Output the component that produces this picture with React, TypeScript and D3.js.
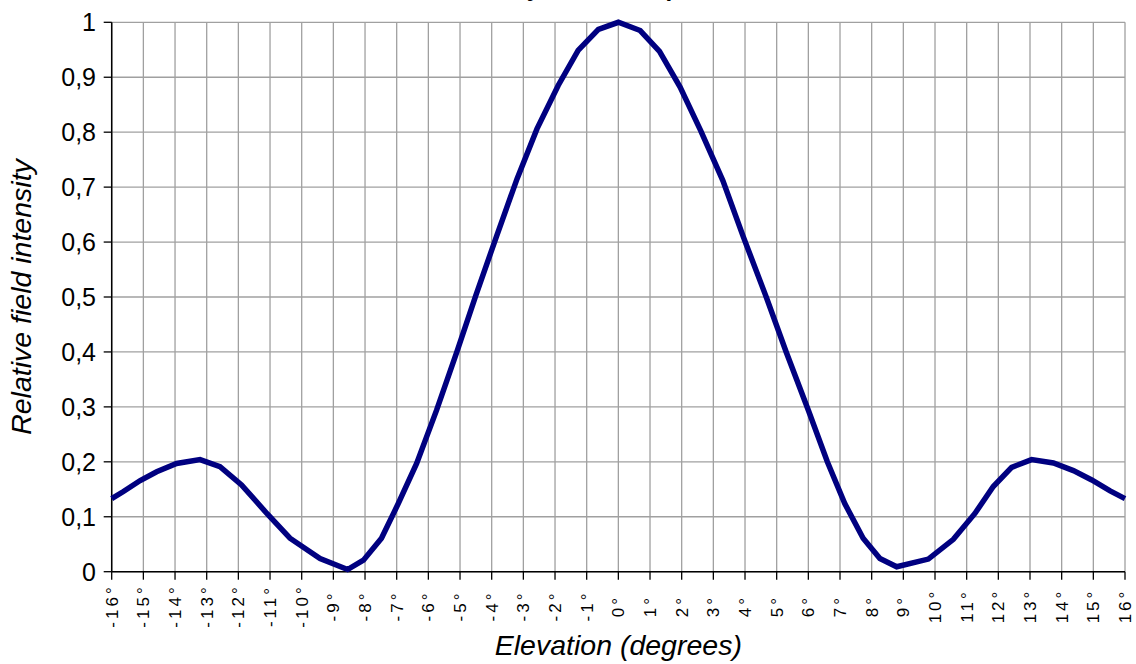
import * as d3 from "d3";

const WIDTH = 1136;
const HEIGHT = 664;
const MARGINS = { LEFT: 111.7, RIGHT: 11, TOP: 22.3, BOTTOM: 92.3 };

const elevation = [
  -16, -15.63, -15.1, -14.58, -13.95, -13.21, -12.58, -11.9, -11.1, -10.37,
  -9.42, -8.55, -8.05, -7.48, -6.95, -6.37, -5.74, -5.1, -4.5, -3.85, -3.2,
  -2.57, -1.9, -1.27, -0.63, 0, 0.69, 1.3, 1.95, 2.6, 3.3, 3.95, 4.69, 5.3,
  6.0, 6.6, 7.15, 7.73, 8.26, 8.79, 9.79, 10.58, 11.26, 11.84, 12.42, 13.05,
  13.74, 14.37, 14.95, 15.53, 16,
];
const intensity = [
  0.133, 0.146, 0.166, 0.182, 0.197, 0.204, 0.191, 0.158, 0.106, 0.061,
  0.024, 0.004, 0.021, 0.061, 0.124, 0.197, 0.294, 0.4, 0.503, 0.61, 0.715,
  0.806, 0.885, 0.949, 0.987, 1.0, 0.985, 0.947, 0.882, 0.803, 0.712, 0.609,
  0.497, 0.4, 0.294, 0.2, 0.124, 0.061, 0.024, 0.009, 0.023, 0.059, 0.106,
  0.155, 0.19, 0.204, 0.198, 0.184, 0.167, 0.147, 0.133,
];

const xTicks = d3.range(-16, 17, 1);
const yTicks = d3.range(0, 11, 1).map((d) => d / 10);

const TITLE = "Vertical array: elevation pattern";
const X_TITLE = "Elevation (degrees)";
const Y_TITLE = "Relative field intensity";

const FONT = "'Liberation Sans', Arial, sans-serif";

export default function App() {
  const x = d3
    .scaleLinear()
    .domain([-16, 16])
    .range([MARGINS.LEFT, WIDTH - MARGINS.RIGHT]);
  const y = d3
    .scaleLinear()
    .domain([0, 1])
    .range([HEIGHT - MARGINS.BOTTOM, MARGINS.TOP]);

  const points = elevation.map((e, i) => [e, intensity[i]] as [number, number]);
  const line = d3
    .line<[number, number]>()
    .x((d) => x(d[0]))
    .y((d) => y(d[1]));

  const fmt = (v: number) => d3.format("~g")(v).replace(".", ",");
  const x0 = x.range()[0];
  const x1 = x.range()[1];
  const yb = y(0);
  const yt = y(1);

  return (
    <svg
      width={WIDTH}
      height={HEIGHT}
      style={{ position: "absolute", left: 0, top: 0, background: "#fff" }}
      fontFamily={FONT}
    >
      {/* title sits above the frame, only the descenders show */}
      <text x={568} y={-4.5} textAnchor="middle" fontSize={24} fontWeight="bold">
        {TITLE}
      </text>

      {/* grid */}
      {xTicks.map((t) => (
        <line key={"gx" + t} x1={x(t)} x2={x(t)} y1={yt} y2={yb} stroke="#a0a0a0" strokeWidth={1.3} />
      ))}
      {yTicks.map((t) => (
        <line key={"gy" + t} x1={x0} x2={x1} y1={y(t)} y2={y(t)} stroke="#a0a0a0" strokeWidth={1.3} />
      ))}

      {/* axes */}
      <line x1={x0} x2={x0} y1={yt} y2={yb} stroke="#000" strokeWidth={1.5} />
      <line x1={x0} x2={x1} y1={yb} y2={yb} stroke="#000" strokeWidth={1.5} />
      {xTicks.map((t) => (
        <line key={"tx" + t} x1={x(t)} x2={x(t)} y1={yb} y2={yb + 8} stroke="#000" strokeWidth={1.3} />
      ))}
      {yTicks.map((t) => (
        <line key={"ty" + t} x1={x0 - 8} x2={x0} y1={y(t)} y2={y(t)} stroke="#000" strokeWidth={1.3} />
      ))}

      {/* y tick labels */}
      {yTicks.map((t) => (
        <text key={"ly" + t} x={96} y={y(t)} dy="0.36em" textAnchor="end" fontSize={25} fill="#000">
          {fmt(t)}
        </text>
      ))}

      {/* x tick labels, rotated */}
      {xTicks.map((t) => (
        <text
          key={"lx" + t}
          transform={`translate(${x(t)},606) rotate(-90)`}
          dy="0.36em"
          textAnchor="middle"
          fontSize={17}
          letterSpacing={3}
          fill="#000"
        >
          {`${t}°`}
        </text>
      ))}

      {/* the pattern */}
      <path d={line(points) ?? ""} fill="none" stroke="#000080" strokeWidth={5.5} strokeLinejoin="miter" />

      {/* axis titles */}
      <text x={(x0 + x1) / 2} y={655} textAnchor="middle" fontSize={28.5} fontStyle="italic">
        {X_TITLE}
      </text>
      <text
        transform={`translate(31,${(yt + yb) / 2}) rotate(-90)`}
        textAnchor="middle"
        fontSize={28.5}
        fontStyle="italic"
      >
        {Y_TITLE}
      </text>
    </svg>
  );
}
